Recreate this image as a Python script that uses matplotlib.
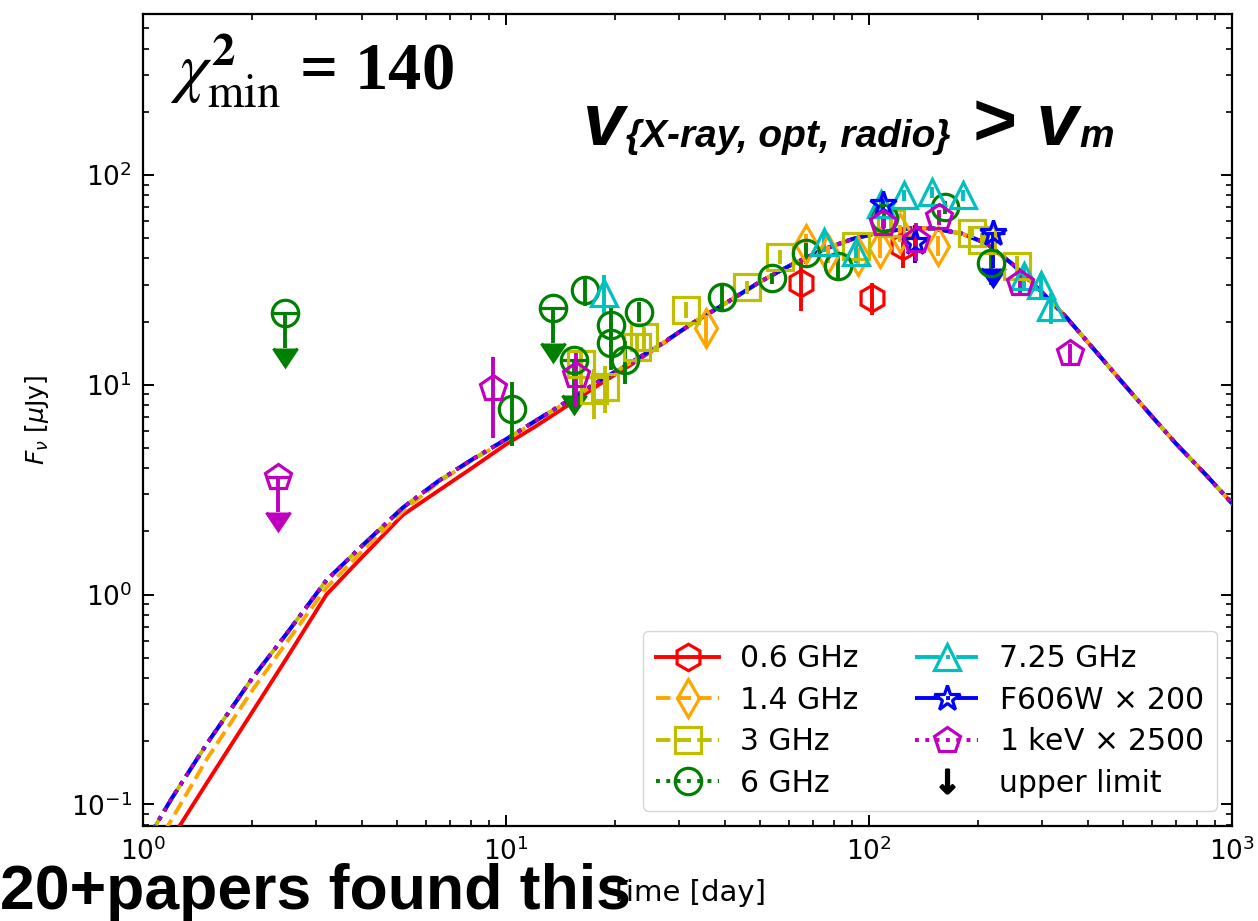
import matplotlib
matplotlib.use("Agg")
import matplotlib.pyplot as plt
from matplotlib.lines import Line2D

################################################################################
# Data

# model curves (time in days, flux in uJy)
t_model = [1.0, 1.2, 1.5, 2.0, 2.5, 3.2, 4.0, 5.2, 6.5, 8.0, 10, 12, 15, 18,
           22, 27, 33, 40, 50, 60, 75, 90, 110, 130, 150, 180, 210, 250, 300,
           350, 420, 500, 600, 700, 850, 1000]
f_common = [0.063, 0.107, 0.195, 0.40, 0.66, 1.17, 1.70, 2.60, 3.47, 4.37,
            5.5, 6.7, 8.5, 10.4, 12.7, 15.8, 19.9, 24.3, 30.9, 36.7, 44.2,
            49.5, 53.7, 55.6, 55.6, 52.5, 47.3, 37.2, 27.5, 20.9, 14.5, 10.2,
            7.1, 5.25, 3.7, 2.72]
f_red = [0.042, 0.069, 0.127, 0.276, 0.505, 1.0, 1.50, 2.4, 3.12, 3.98,
         5.2, 6.3, 8.1, 10.0, 12.4, 15.7, 19.9, 24.3, 30.9, 36.7, 44.2,
         49.5, 53.7, 55.6, 55.6, 52.5, 47.3, 37.2, 27.5, 20.9, 14.5, 10.2,
         7.1, 5.25, 3.7, 2.72]
f_orange = [0.05, 0.085, 0.165, 0.35, 0.60, 1.08, 1.60, 2.5, 3.42, 4.33,
             5.45, 6.65, 8.45, 10.35, 12.7, 15.8, 19.9, 24.3, 30.9, 36.7,
             44.2, 49.5, 53.7, 55.6, 55.6, 52.5, 47.3, 37.2, 27.5, 20.9, 14.5,
             10.2, 7.1, 5.25, 3.7, 2.72]

# 0.6 GHz
t_06 = [65, 102, 124]
f_06 = [30.5, 26, 46]
e_06 = [8, 4.5, 10]

# 1.4 GHz
t_14 = [35.5, 67, 77, 93, 107, 122, 155]
f_14 = [18.6, 47, 42, 41, 45, 53, 46]
e_14 = [3, 5, 4, 4, 5, 5, 5]

# 3 GHz
t_3 = [16.1, 17.5, 18.7, 22.9, 24, 31.3, 46, 57, 92, 115, 192, 205, 256]
f_3 = [12.6, 9.4, 9.8, 15.1, 16.8, 22.7, 29.2, 40.7, 46, 59, 53, 49, 37]
e_3 = [2.5, 2.5, 2.5, 2.5, 2, 2, 2, 3, 3, 4, 3, 4, 4]

# 6 GHz
t_6 = [10.4, 16.5, 19.4, 19.4, 21.3, 23.3, 39.3, 54, 67, 82, 110, 162, 217]
f_6 = [7.7, 28.3, 19.2, 15.8, 13.1, 22.3, 26.1, 32.2, 42.5, 37, 62, 70, 38]
e_6 = [2.6, 4.5, 4, 4, 3, 2.5, 4, 2, 5, 5, 6, 5, 8]
t_6_ul = [2.46, 13.5, 15.4]
f_6_ul = [22, 23.2, 13.1]

# 7.25 GHz
t_725 = [18.6, 75, 92, 108, 125, 149, 181, 268, 298, 318]
f_725 = [27.4, 48, 43, 73, 80, 83, 80, 33, 30, 23.5]
e_725 = [6, 5, 5, 6, 5, 5, 5, 4, 4, 4]

# F606W x 200
t_opt = [109, 134]
f_opt = [73, 48]
e_opt = [6, 10]
t_opt_ul = [219]
f_opt_ul = [53]

# 1 keV x 2500
t_x = [9.22, 15.6, 109, 135, 156, 260, 357]
f_x = [9.6, 11.1, 59, 49, 63, 30.5, 14.1]
e_x = [4, 3.3, 5, 10, 5, 3, 1.5]
t_x_ul = [2.35]
f_x_ul = [3.63]

labels = ["0.6 GHz", "1.4 GHz", "3 GHz", "6 GHz", "7.25 GHz",
          "F606W $\\times$ 200", "1 keV $\\times$ 2500"]
################################################################################

################################################################################
# Styles
MS = 19
MEW = 2.3
LW = 2.8
ELW = 2.8
TXT = dict(family="Liberation Sans", weight="bold", style="italic",
           color="k")

bands = [
    ("r",      "-",  "h", f_red,    t_06,  f_06,  e_06,  [],       []),
    ("orange", "--", "d", f_orange, t_14,  f_14,  e_14,  [],       []),
    ("y",      "--", "s", f_common, t_3,   f_3,   e_3,   [],       []),
    ("g",      ":",  "o", f_common, t_6,   f_6,   e_6,   t_6_ul,   f_6_ul),
    ("c",      "-.", "^", f_common, t_725, f_725, e_725, [],       []),
    ("b",      "-.", "*", f_common, t_opt, f_opt, e_opt, t_opt_ul, f_opt_ul),
    ("m",      ":",  "p", f_common, t_x,   f_x,   e_x,   t_x_ul,   f_x_ul),
]

plt.rcParams["xtick.direction"] = "in"
plt.rcParams["ytick.direction"] = "in"
plt.rcParams["xtick.top"] = True
plt.rcParams["ytick.right"] = True
plt.rcParams["xtick.major.size"] = 8
plt.rcParams["ytick.major.size"] = 8
plt.rcParams["xtick.minor.size"] = 4.5
plt.rcParams["ytick.minor.size"] = 4.5
plt.rcParams["xtick.major.width"] = 1.4
plt.rcParams["ytick.major.width"] = 1.4
plt.rcParams["xtick.minor.width"] = 1.2
plt.rcParams["ytick.minor.width"] = 1.2
plt.rcParams["axes.linewidth"] = 1.6

fig = plt.figure(figsize=(12.58, 9.21), dpi=100)
ax = fig.add_axes([0.1137, 0.1032, 0.8657, 0.8817])

handles = []
for (color, ls, mk, fmod, t, f, e, tul, ful) in bands:
    ax.plot(t_model, fmod, color=color, linestyle=ls, linewidth=LW, zorder=3)
    ax.errorbar(t, f, yerr=e, fmt=mk, color=color, mfc="none", ms=MS,
                mew=MEW, elinewidth=ELW, capsize=0, zorder=4)
    if len(tul) > 0:
        ax.errorbar(tul, ful, yerr=[0.32 * v for v in ful], uplims=True,
                    fmt=mk, color=color, mfc="none", ms=MS, mew=MEW,
                    elinewidth=ELW, capsize=8.5, capthick=2, zorder=4)
    handles.append(Line2D([], [], color=color, linestyle=ls, linewidth=LW,
                          marker=mk, mfc="none", ms=MS, mew=MEW))

handles.append(Line2D([], [], color="k", linestyle="none",
                      marker="$\\downarrow$", ms=17, mew=1.8))
ax.legend(handles, labels + ["upper limit"], ncol=2, loc="lower right",
          fontsize=21.5, handlelength=2.1, columnspacing=1.9,
          labelspacing=0.42, handletextpad=0.7, borderpad=0.45)

ax.set_xscale("log")
ax.set_yscale("log")
ax.set_xlim(1, 1000)
ax.set_ylim(0.079, 585)
ax.tick_params(axis="both", which="major", labelsize=19, pad=8)
ax.set_xlabel("Time [day]", fontsize=21, labelpad=10)
ax.set_ylabel("$F_\\nu$ [$\\mu$Jy]", fontsize=18, labelpad=14)

# chi^2 annotation
ax.text(0.025, 0.906, "$\\chi^{\\mathbf{2}}_{\\rm min}$ = 140",
        transform=ax.transAxes, fontsize=48, weight="bold",
        family="Liberation Serif", math_fontfamily="stix", va="baseline")

# nu_{X-ray, opt, radio} > nu_m, built from pieces
t1 = ax.text(0.404, 0.839, "v", transform=ax.transAxes, fontsize=54,
             va="baseline", **TXT)
t2 = ax.annotate("{X-ray, opt, radio}", xy=(1, 0), xycoords=t1,
                 xytext=(1, 3), textcoords="offset points", fontsize=28,
                 va="bottom", **TXT)
t3 = ax.annotate(" > v", xy=(1, 0), xycoords=t2, xytext=(0, -3),
                 textcoords="offset points", fontsize=54, va="bottom", **TXT)
ax.annotate("m", xy=(1, 0), xycoords=t3, xytext=(1, 3),
            textcoords="offset points", fontsize=28, va="bottom", **TXT)

fig.text(0.0, 1 - 909 / 921, "20+papers found this", fontsize=45,
         weight="bold", family="Liberation Sans", va="baseline", zorder=10)

plt.savefig("out.png", dpi=100)
plt.close()
